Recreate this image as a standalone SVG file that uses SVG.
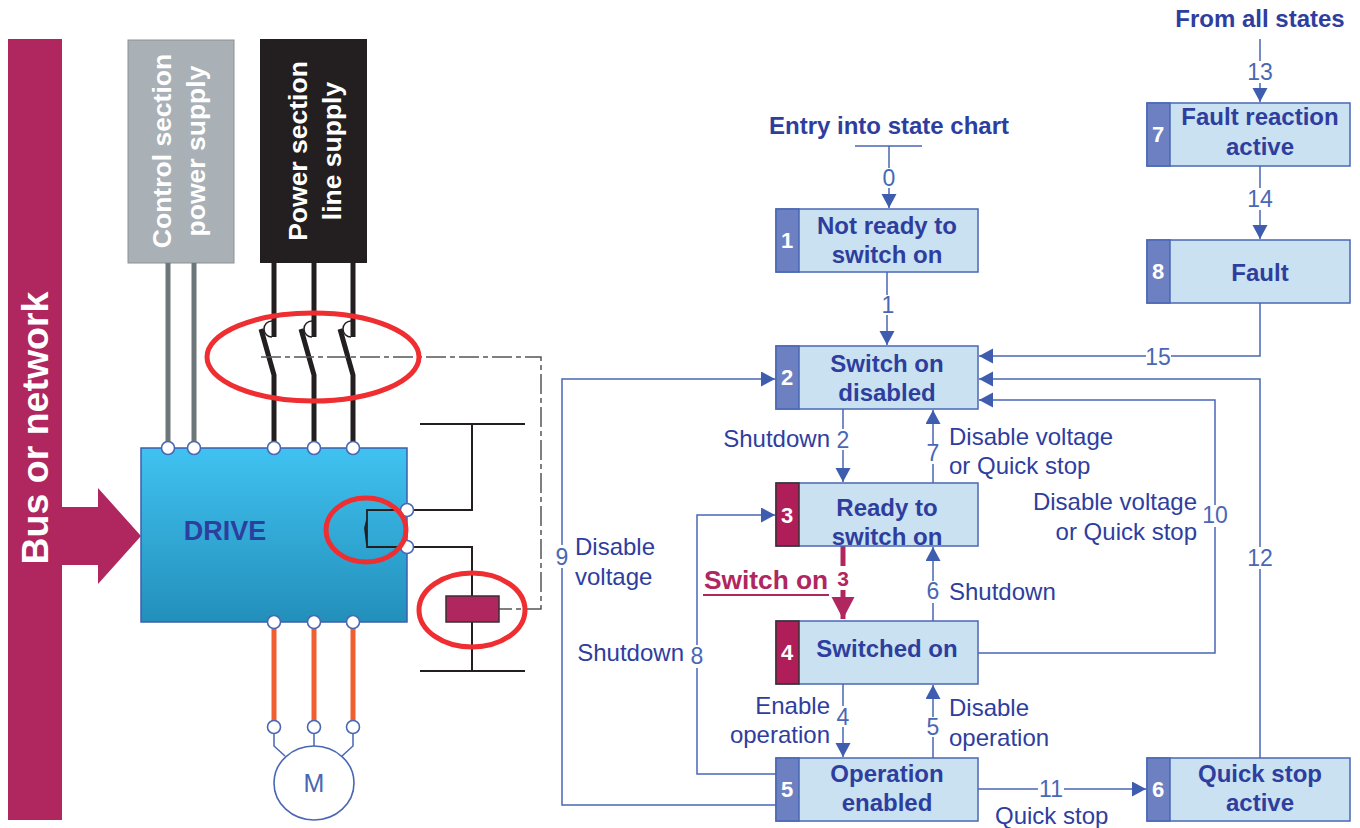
<svg xmlns="http://www.w3.org/2000/svg" width="1360" height="828" viewBox="0 0 1360 828">
<style>
text{font-family:"Liberation Sans",Arial,sans-serif}
.st{fill:#C9E1F0;stroke:#4A67B4;stroke-width:1.5}
.tb{fill:#6C80C2;stroke:#4A67B4;stroke-width:1.5}
.tr{fill:#B01E5A;stroke:#3a3035;stroke-width:1.5}
.n{font-size:24px;font-weight:bold;fill:#2E3E9E;text-anchor:middle}
.tn{font-size:22px;font-weight:bold;fill:#fff;text-anchor:middle}
.l{font-size:24px;fill:#2E3E9E}
.m{text-anchor:middle}
.e{text-anchor:end}
.b{font-weight:bold;font-size:24px}
.num{font-size:23px;fill:#4A67B4;text-anchor:middle}
.c{fill:none;stroke:#4A67B4;stroke-width:1.5}
.k{fill:none;stroke:#231F20;stroke-width:2}
.ring{fill:none;stroke:#EE2E31;stroke-width:5}
.t{fill:#fff;stroke:#4A67B4;stroke-width:1.6}
.g{stroke:#6D7679;stroke-width:5;fill:none}
.p{stroke:#231F20;stroke-width:5;fill:none}
.o{stroke:#F15F31;stroke-width:5;fill:none}
</style>
<defs>
<linearGradient id="dg" x1="0" y1="0" x2="0" y2="1"><stop offset="0" stop-color="#40C2F0"/><stop offset="1" stop-color="#238FBB"/></linearGradient>
<marker id="a" markerUnits="userSpaceOnUse" markerWidth="16" markerHeight="16" refX="14" refY="7.5" orient="auto"><path d="M0 0L14 7.5L0 15Z" fill="#3F5DAE"/></marker>
<marker id="ar" markerUnits="userSpaceOnUse" markerWidth="24" markerHeight="24" refX="22" refY="11.5" orient="auto"><path d="M0 0L22 11.5L0 23Z" fill="#B0265F"/></marker>
</defs>

<g id="bus">
<rect x="8" y="39" width="54" height="781" fill="#B0265F"/>
<path d="M62 507H98V488L141 536L98 584V565H62Z" fill="#B0265F"/>
<text transform="translate(48 428) rotate(-90)" text-anchor="middle" font-size="37.5" font-weight="bold" fill="#fff">Bus or network</text>
</g>
<g id="control-supply">
<rect x="128" y="40" width="106" height="223" fill="#A9B0B6" stroke="#8b9296"/>
<text transform="rotate(-90 171 151)" x="171" y="151" class="m" font-size="26.5" font-weight="bold" fill="#fff">Control section</text>
<text transform="rotate(-90 205 151)" x="205" y="151" class="m" font-size="26.5" font-weight="bold" fill="#fff">power supply</text>
</g>
<g id="power-supply">
<rect x="260" y="39" width="107" height="224" fill="#231F20"/>
<text transform="rotate(-90 307 151)" x="307" y="151" class="m" font-size="26.5" font-weight="bold" fill="#fff">Power section</text>
<text transform="rotate(-90 341 151)" x="341" y="151" class="m" font-size="26.5" font-weight="bold" fill="#fff">line supply</text>
</g>

<g id="wiring">
<path class="g" d="M168 263V443M194 263V443"/>
<path class="p" d="M274 263V337M314 263V337M353 263V337"/>
<path class="p" d="M261 329L274 375V443M301 329L314 375V443M340 329L353 375V443"/>
<path fill="none" stroke="#231F20" stroke-width="1.5" d="M272 321A8 8 0 0 0 272 337M312 321A8 8 0 0 0 312 337M351 321A8 8 0 0 0 351 337"/>
<path fill="none" stroke="#555" stroke-width="1.5" stroke-dasharray="20 4 5 4" d="M261 357H541V609H498"/>
<path class="o" d="M274 622V722M314 622V722M353 622V722"/>
<path class="k" d="M420 424H525M472 424V510H411M411 547H472V596M472 622V671M420 671H525"/>
<path class="c" d="M274 734V746L285 756M314 734V746M353 734V746L342 756"/>
</g>

<g id="drive">
<rect x="141" y="448" width="266" height="174" fill="url(#dg)" stroke="#3F5DAE" stroke-width="1.5"/>
<text x="225" y="540" text-anchor="middle" font-size="27" font-weight="bold" fill="#2E3E9E">DRIVE</text>
<path fill="none" stroke="#231F20" stroke-width="1.8" d="M402 510H367V547H402M367 520L365 528L367 545"/>
</g>
<g id="terminals">
<circle class="t" cx="168" cy="448" r="6.5"/><circle class="t" cx="194" cy="448" r="6.5"/>
<circle class="t" cx="274" cy="448" r="6.5"/><circle class="t" cx="314" cy="448" r="6.5"/><circle class="t" cx="353" cy="448" r="6.5"/>
<circle class="t" cx="407" cy="510" r="6.5"/><circle class="t" cx="407" cy="547" r="6.5"/>
<circle class="t" cx="274" cy="622" r="6.5"/><circle class="t" cx="314" cy="622" r="6.5"/><circle class="t" cx="353" cy="622" r="6.5"/>
<circle class="t" cx="274" cy="727" r="6.5"/><circle class="t" cx="314" cy="727" r="6.5"/><circle class="t" cx="353" cy="727" r="6.5"/>
</g>
<g id="motor">
<ellipse cx="314" cy="783" rx="40" ry="37" fill="#fff" stroke="#4A67B4" stroke-width="1.6"/>
<text x="314" y="792" text-anchor="middle" font-size="25" fill="#4A67B4">M</text>
</g>
<g id="coil"><rect x="446" y="596" width="53" height="26" fill="#B0265F" stroke="#3a3035" stroke-width="1.5"/></g>
<g id="rings">
<ellipse class="ring" cx="313" cy="357" rx="106" ry="44"/>
<ellipse class="ring" cx="366" cy="530" rx="40" ry="32"/>
<ellipse class="ring" cx="472" cy="610" rx="53" ry="37"/>
</g>

<g id="connectors">
<path class="c" d="M855 146H922M889 146V168M889 188V208" marker-end="url(#a)"/>
<path class="c" d="M887 272V295M887 315V345" marker-end="url(#a)"/>
<path class="c" d="M843 409V429M843 450V482" marker-end="url(#a)"/>
<path class="c" d="M933 483V464M933 444V410" marker-end="url(#a)"/>
<path class="c" d="M933 621V603M933 581V547" marker-end="url(#a)"/>
<path class="c" d="M843 684V706M843 727V757" marker-end="url(#a)"/>
<path class="c" d="M933 758V737M933 717V685" marker-end="url(#a)"/>
<path class="c" d="M776 805H562V568M562 545V379H775" marker-end="url(#a)"/>
<path class="c" d="M776 774H697V668M697 645V515H775" marker-end="url(#a)"/>
<path class="c" d="M978 653H1215V527M1215 505V400H979" marker-end="url(#a)"/>
<path class="c" d="M978 789H1038M1064 789H1146" marker-end="url(#a)"/>
<path class="c" d="M1260 758V569M1260 547V379H979" marker-end="url(#a)"/>
<path class="c" d="M1260 39V61M1260 83V102" marker-end="url(#a)"/>
<path class="c" d="M1260 166V188M1260 210V239" marker-end="url(#a)"/>
<path class="c" d="M1260 303V356H1171M1146 356H979" marker-end="url(#a)"/>
<path fill="none" stroke="#B0265F" stroke-width="5" d="M843 546V566"/>
<path fill="none" stroke="#B0265F" stroke-width="5" d="M843 590V619" marker-end="url(#ar)"/>
</g>

<g id="state-1"><rect class="st" x="776" y="209" width="202" height="63"/><rect class="tb" x="776" y="209" width="23" height="63"/><text class="tn" x="787" y="248">1</text><text class="n" x="887" y="234">Not ready to</text><text class="n" x="887" y="263">switch on</text></g>
<g id="state-2"><rect class="st" x="776" y="346" width="202" height="63"/><rect class="tb" x="776" y="346" width="23" height="63"/><text class="tn" x="787" y="385">2</text><text class="n" x="887" y="372">Switch on</text><text class="n" x="887" y="401">disabled</text></g>
<g id="state-3"><rect class="st" x="776" y="483" width="202" height="63"/><rect class="tr" x="776" y="483" width="23" height="63"/><text class="tn" x="787" y="523">3</text><text class="n" x="887" y="516">Ready to</text><text class="n" x="887" y="545">switch on</text></g>
<g id="state-4"><rect class="st" x="776" y="621" width="202" height="63"/><rect class="tr" x="776" y="621" width="23" height="63"/><text class="tn" x="787" y="660">4</text><text class="n" x="887" y="657">Switched on</text></g>
<g id="state-5"><rect class="st" x="776" y="758" width="202" height="63"/><rect class="tb" x="776" y="758" width="23" height="63"/><text class="tn" x="787" y="797">5</text><text class="n" x="887" y="782">Operation</text><text class="n" x="887" y="811">enabled</text></g>
<g id="state-6"><rect class="st" x="1147" y="758" width="203" height="63"/><rect class="tb" x="1147" y="758" width="23" height="63"/><text class="tn" x="1158" y="797">6</text><text class="n" x="1260" y="782">Quick stop</text><text class="n" x="1260" y="811">active</text></g>
<g id="state-7"><rect class="st" x="1147" y="103" width="203" height="63"/><rect class="tb" x="1147" y="103" width="23" height="63"/><text class="tn" x="1158" y="142">7</text><text class="n" x="1260" y="125">Fault reaction</text><text class="n" x="1260" y="155">active</text></g>
<g id="state-8"><rect class="st" x="1147" y="240" width="203" height="63"/><rect class="tb" x="1147" y="240" width="23" height="63"/><text class="tn" x="1158" y="279">8</text><text class="n" x="1260" y="281">Fault</text></g>

<g id="labels">
<text class="l b m" x="889" y="134">Entry into state chart</text>
<text class="l b m" x="1260" y="27">From all states</text>
<text class="num" x="889" y="186">0</text>
<text class="num" x="888" y="313">1</text>
<text class="num" x="843" y="448">2</text>
<text class="num" x="933" y="461">7</text>
<text class="num" x="933" y="599">6</text>
<text class="num" x="843" y="725">4</text>
<text class="num" x="933" y="735">5</text>
<text class="num" x="562" y="565">9</text>
<text class="num" x="697" y="664">8</text>
<text class="num" x="1215" y="523">10</text>
<text class="num" x="1051" y="797">11</text>
<text class="num" x="1260" y="566">12</text>
<text class="num" x="1260" y="80">13</text>
<text class="num" x="1260" y="207">14</text>
<text class="num" x="1158" y="365">15</text>
<text x="843" y="586" text-anchor="middle" font-size="21" font-weight="bold" fill="#B0265F">3</text>
<text class="l e" x="830" y="447">Shutdown</text>
<text class="l" x="949" y="445">Disable voltage</text>
<text class="l" x="949" y="474">or Quick stop</text>
<text class="l e" x="1197" y="510">Disable voltage</text>
<text class="l e" x="1197" y="540">or Quick stop</text>
<text class="l" x="575" y="555">Disable</text>
<text class="l" x="575" y="585">voltage</text>
<text class="l" x="949" y="600">Shutdown</text>
<text class="l e" x="684" y="661">Shutdown</text>
<text class="l e" x="830" y="714">Enable</text>
<text class="l e" x="830" y="743">operation</text>
<text class="l" x="949" y="716">Disable</text>
<text class="l" x="949" y="746">operation</text>
<text class="l" x="995" y="824">Quick stop</text>
<text x="704" y="589" font-size="26.3" font-weight="bold" fill="#B0265F">Switch on</text>
<path d="M703 595H829" stroke="#B0265F" stroke-width="2" fill="none"/>
</g>
</svg>
